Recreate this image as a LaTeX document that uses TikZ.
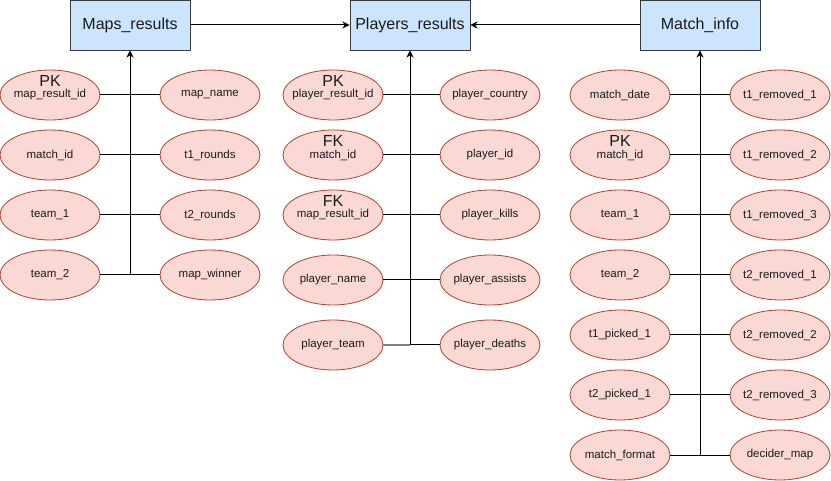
\documentclass[tikz,border=0pt]{standalone}
\usepackage{fontspec}
\setmainfont{Liberation Sans}
\usetikzlibrary{arrows.meta,shapes.geometric}
\definecolor{EntityClr}{HTML}{CCE5FF}
\definecolor{EntityLine}{HTML}{36393D}
\definecolor{AttribClr}{HTML}{FAD9D5}
\definecolor{AttribLine}{HTML}{AE4132}
\definecolor{TextClr}{HTML}{1A1A1A}

\begin{document}
\begin{tikzpicture}[x=1pt,y=-1pt,
  entity/.style={draw=EntityLine,fill=EntityClr,line width=0.9pt,minimum width=120pt,minimum height=50pt,
    inner sep=0pt,text=TextClr,font=\fontsize{16}{18}\selectfont},
  attrib/.style={ellipse,draw=AttribLine,fill=AttribClr,line width=0.8pt,minimum width=100pt,minimum height=50pt,
    inner xsep=-15pt,inner ysep=0pt,text=TextClr,font=\fontsize{11.5}{13}\selectfont},
  keytag/.style={inner sep=0pt,text=TextClr,font=\fontsize{16}{18}\selectfont},
  wire/.style={draw=black,line width=1pt},
  rel/.style={wire,-{Stealth[length=7pt,width=7pt,inset=2pt]}}]
\useasboundingbox (0,0) rectangle (831,481);

% tables
\node[entity] (mr) at (130,25) {Maps\_results};
\node[entity] (pr) at (410,25) {Players\_results};
\node[entity] (mi) at (700,25) {Match\_info};
\draw[rel] (mr.east) -- (pr.west);
\draw[rel] (mi.west) -- (pr.east);

% Maps_results
\foreach \y/\a/\ta/\b/\tb in {95/mrid/map\_result\_id/mname/map\_name,
  155/mmid/match\_id/mtonerd/t1\_rounds, 215/mteamone/team\_1/mttword/t2\_rounds,
  275/mteamtwo/team\_2/mwin/map\_winner}{
  \node[attrib] (\a) at (50,\y) {\ta};
  \node[attrib] (\b) at (210,\y) {\tb};
  \draw[wire] (\a) -- (\b);
}
\draw[rel] (mteamtwo.east -| mr.south) -- (mr.south);
\node[keytag] (mrpk) at ([yshift=14pt]mrid.center) {PK};

% Players_results
\foreach \y/\a/\ta/\b/\tb in {95/prid/player\_result\_id/pcountry/player\_country,
  155/pmid/match\_id/pid/player\_id, 215/pmrid/map\_result\_id/pkills/player\_kills,
  280/pname/player\_name/passists/player\_assists}{
  \node[attrib] (\a) at (333,\y) {\ta};
  \node[attrib] (\b) at (490,\y) {\tb};
  \draw[wire] (\a) -- (\b);
}
\node[attrib] (pteam) at (333,345) {player\_team};
\node[attrib] (pdeaths) at (490,345) {player\_deaths};
\coordinate (pjoin) at (pteam.east -| pr.south);
\draw[wire,draw=gray,line width=1.6pt] (pteam) -- (pjoin);
\draw[wire] (pjoin) -- (pdeaths);
\draw[rel] (pjoin) -- (pr.south);
\node[keytag] (prpk) at ([yshift=14pt]prid.center) {PK};
\node[keytag] (pmfk) at ([yshift=14pt]pmid.center) {FK};
\node[keytag] (pmrfk) at ([yshift=14pt]pmrid.center) {FK};

% Match_info
\foreach \y/\a/\ta/\b/\tb in {95/mdate/match\_date/toneri/t1\_removed\_1,
  155/mid/match\_id/tonerii/t1\_removed\_2, 215/iteamone/team\_1/toneriii/t1\_removed\_3,
  275/iteamtwo/team\_2/ttwori/t2\_removed\_1, 335/tonepick/t1\_picked\_1/ttworii/t2\_removed\_2,
  395/ttwopick/t2\_picked\_1/ttworiii/t2\_removed\_3, 455/mformat/match\_format/dmap/decider\_map}{
  \node[attrib] (\a) at (620,\y) {\ta};
  \node[attrib] (\b) at (780,\y) {\tb};
  \draw[wire] (\a) -- (\b);
}
\draw[rel] (mformat.east -| mi.south) -- (mi.south);
\node[keytag] (mipk) at ([yshift=14pt]mid.center) {PK};

\end{tikzpicture}
\end{document}
